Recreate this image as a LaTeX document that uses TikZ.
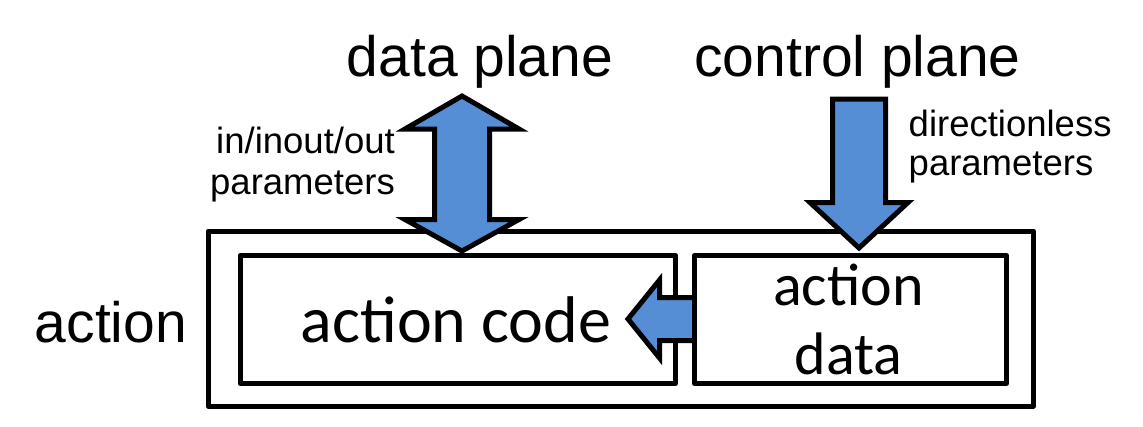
\documentclass[tikz,border=0pt]{standalone}
\usepackage{fontspec}
\setmainfont{Liberation Sans}
\newfontfamily\calibrifont{Carlito}
\definecolor{arrowblue}{HTML}{558ED5}
\begin{document}
\begin{tikzpicture}[x=1pt,y=-1pt,
  box/.style={draw, line width=5pt, line join=round, inner sep=0pt, rectangle},
  arrowfill/.style={fill=arrowblue},
  arrowline/.style={draw=black, line width=5pt, line join=miter},
  big/.style={font=\fontsize{57}{68}\selectfont, inner sep=0pt, anchor=base},
  small/.style={font=\fontsize{36.5}{41}\selectfont, inner sep=0pt},
  cal/.style={font=\calibrifont\fontsize{60}{68}\selectfont, inner sep=0pt, anchor=base},
  calbig/.style={font=\calibrifont\fontsize{66}{74}\selectfont, inner sep=0pt, anchor=base}]
\useasboundingbox (0,0) rectangle (1143,426);
% boxes
\node[box, minimum width=825.5pt, minimum height=175pt] (outer) at (620.75,318.5) {};
\node[box, minimum width=435.5pt, minimum height=128pt] (code) at (457.75,319.5) {};
% small arrow from action data to action code
\fill[arrowfill] (694.5,297.5) -- (659.5,297.5) -- (659.5,280) -- (628,319) -- (659.5,358) -- (659.5,340.5) -- (694.5,340.5) -- cycle;
\draw[arrowline] (694.5,297.5) -- (659.5,297.5) -- (659.5,280) -- (628,319) -- (659.5,358) -- (659.5,340.5) -- (694.5,340.5);
\node[box, minimum width=312pt, minimum height=128pt] (data) at (850.5,319.5) {};
% data plane double arrow
\filldraw[arrowfill, arrowline] (462,96) -- (519,129) -- (489.5,129) -- (489.5,219.5) -- (519,219.5) -- (462,251) -- (405,219.5) -- (434.5,219.5) -- (434.5,129) -- (405,129) -- cycle;
% control plane arrow
\filldraw[arrowfill, arrowline] (832.5,99) -- (885.5,99) -- (885.5,202.5) -- (908,202.5) -- (859,248) -- (810,202.5) -- (832.5,202.5) -- cycle;
% texts
\node[big] (dplane) at (480,76.7) {data plane};
\node[big] (cplane) at (857.5,76) {control plane};
\node[big] (actionlbl) at (111,342) {action};
\node[small, anchor=base east] (io1) at (395,153.3) {in/inout/out};
\node[small, anchor=base east] (io2) at (395,194) {parameters};
\node[small, anchor=base west] (dl1) at (908.5,136.7) {directionless};
\node[small, anchor=base west] (dl2) at (908.5,175) {parameters};
\node[calbig] (codetext) at (456,342) {action code};
\node[cal] (datatext1) at (848.5,305) {action};
\node[cal] (datatext2) at (848.5,374) {data};
\end{tikzpicture}
\end{document}
